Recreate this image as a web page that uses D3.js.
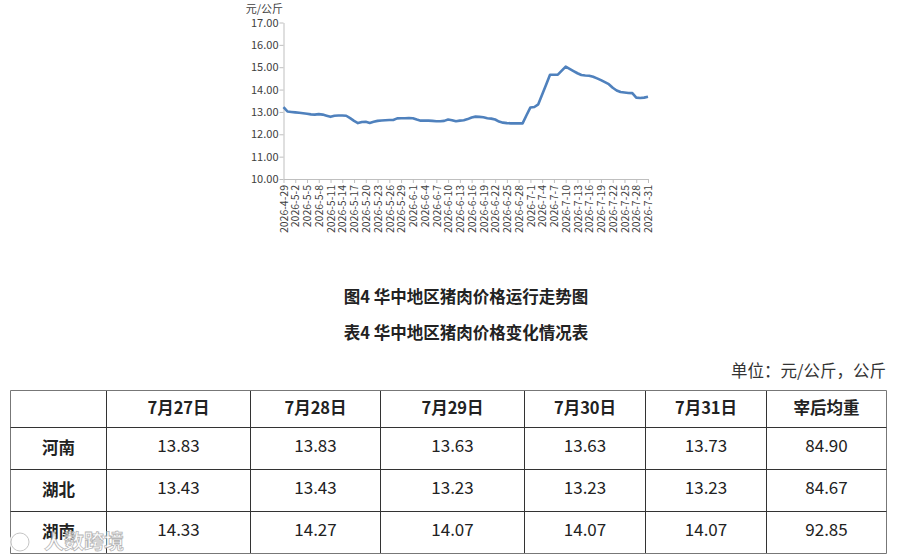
<!DOCTYPE html>
<html>
<head>
<meta charset="utf-8">
<title>华中地区猪肉价格</title>
<script src="https://d3js.org/d3.v7.min.js"></script>
<style>
body { margin: 0; background: #fff; }
text { font-family: "Noto Sans CJK SC", "Noto Sans", sans-serif; }
</style>
</head>
<body>
<div id="canvas"></div>
<script>

// ---- chart data: daily price 2026-4-29 .. 2026-7-31 (元/公斤) ----
var startDate = new Date(2026, 3, 29);
var prices = [
  13.21, 13.02, 13.00, 12.98, 12.96, 12.94, 12.92, 12.89, 12.88, 12.90,
  12.88, 12.83, 12.78, 12.83, 12.84, 12.84, 12.83, 12.72, 12.60, 12.50,
  12.55, 12.56, 12.51, 12.56, 12.60, 12.62, 12.63, 12.64, 12.64, 12.71,
  12.72, 12.72, 12.73, 12.72, 12.66, 12.61, 12.61, 12.61, 12.60, 12.58,
  12.58, 12.60, 12.66, 12.63, 12.58, 12.61, 12.63, 12.68, 12.75, 12.79,
  12.78, 12.76, 12.72, 12.70, 12.66, 12.57, 12.52, 12.50, 12.49, 12.49,
  12.49, 12.49, 12.85, 13.20, 13.22, 13.34, 13.78, 14.22, 14.66, 14.66,
  14.67, 14.85, 15.03, 14.93, 14.83, 14.73, 14.65, 14.63, 14.62, 14.57,
  14.50, 14.42, 14.33, 14.24, 14.08, 13.96, 13.89, 13.87, 13.85, 13.84,
  13.64, 13.62, 13.64, 13.68
];
var yTicks = [10, 11, 12, 13, 14, 15, 16, 17];
var yUnit = "元/公斤";

// ---- table data ----
var figTitle = "图4 华中地区猪肉价格运行走势图";
var tableTitle = "表4 华中地区猪肉价格变化情况表";
var unitNote = "单位：元/公斤，公斤";
var headers = ["", "7月27日", "7月28日", "7月29日", "7月30日", "7月31日", "宰后均重"];
var regions = ["河南", "湖北", "湖南"];
var henan = [13.83, 13.83, 13.63, 13.63, 13.73, 84.90];
var hubei = [13.43, 13.43, 13.23, 13.23, 13.23, 84.67];
var hunan = [14.33, 14.27, 14.07, 14.07, 14.07, 92.85];
var rows = [henan, hubei, hunan];

var dates = prices.map(function(d, i) {
  var t = new Date(startDate.getTime());
  t.setDate(t.getDate() + i);
  return t.getFullYear() + "-" + (t.getMonth() + 1) + "-" + t.getDate();
});

var svg = d3.select("#canvas")
            .append("svg")
            .attr("width", 900)
            .attr("height", 558);

// ---- line chart ----
var plot = { left: 283.5, right: 648, top: 22.5, bottom: 179 };

var x = d3.scalePoint()
          .domain(dates)
          .range([plot.left, plot.right]);

var y = d3.scaleLinear()
          .domain([10, 17])
          .range([plot.bottom, plot.top]);

var yAxis = svg.append("g")
               .attr("transform", "translate(" + plot.left + ",0)")
               .call(d3.axisLeft(y).tickValues(yTicks)
                       .tickFormat(d3.format(".2f")).tickSize(4).tickSizeOuter(0));
yAxis.select(".domain").attr("stroke", "#bfbfbf");
yAxis.selectAll(".tick line").attr("stroke", "#bfbfbf");
yAxis.selectAll(".tick text")
     .attr("x", -5)
     .attr("fill", "#404040")
     .style("font-size", "11px");

svg.append("text")
   .attr("x", 283)
   .attr("y", 12.5)
   .attr("text-anchor", "end")
   .attr("fill", "#404040")
   .style("font-size", "11px")
   .text(yUnit);

var xAxis = svg.append("g")
               .attr("transform", "translate(0," + plot.bottom + ")")
               .call(d3.axisBottom(x)
                       .tickValues(dates.filter(function(d, i) { return i % 3 === 0; }))
                       .tickSize(4).tickSizeOuter(0));
xAxis.select(".domain").attr("stroke", "#bfbfbf");
xAxis.selectAll(".tick line").attr("stroke", "#bfbfbf");
xAxis.selectAll(".tick text")
     .attr("transform", "rotate(-90)")
     .attr("x", -6)
     .attr("y", 0)
     .attr("dy", "0.35em")
     .attr("text-anchor", "end")
     .attr("fill", "#404040")
     .style("font-size", "10.5px");

var line = d3.line()
             .x(function(d, i) { return x(dates[i]); })
             .y(function(d) { return y(d); });

svg.append("path")
   .datum(prices)
   .attr("d", line)
   .attr("fill", "none")
   .attr("stroke", "#4f81bd")
   .attr("stroke-width", 2.6)
   .attr("stroke-linejoin", "round");

// ---- captions ----
svg.append("text")
   .attr("x", 466).attr("y", 297)
   .attr("dy", "0.35em")
   .attr("text-anchor", "middle")
   .attr("fill", "#222")
   .style("font-size", "16.5px")
   .style("font-weight", "bold")
   .text(figTitle);

svg.append("text")
   .attr("x", 466).attr("y", 333)
   .attr("dy", "0.35em")
   .attr("text-anchor", "middle")
   .attr("fill", "#222")
   .style("font-size", "16.5px")
   .style("font-weight", "bold")
   .text(tableTitle);

svg.append("text")
   .attr("x", 886).attr("y", 371)
   .attr("dy", "0.35em")
   .attr("text-anchor", "end")
   .attr("fill", "#333")
   .style("font-size", "16.5px")
   .text(unitNote);

// ---- table ----
var colEdges = [10.5, 106.5, 250.5, 380.5, 524.5, 645.5, 766.5, 886.5];
var rowEdges = [390.5, 427.5, 469.5, 511.5, 553.5];

var table = svg.append("g");

table.selectAll("line.v")
     .data(colEdges)
     .enter()
     .append("line")
     .attr("x1", function(d) { return d; })
     .attr("x2", function(d) { return d; })
     .attr("y1", rowEdges[0])
     .attr("y2", rowEdges[rowEdges.length - 1])
     .attr("stroke", function(d, i) { return (i === 0 || i === colEdges.length - 1) ? "#777" : "#333"; })
     .attr("stroke-width", 1);

table.selectAll("line.h")
     .data(rowEdges)
     .enter()
     .append("line")
     .attr("x1", colEdges[0])
     .attr("x2", colEdges[colEdges.length - 1])
     .attr("y1", function(d) { return d; })
     .attr("y2", function(d) { return d; })
     .attr("stroke", function(d, i) { return (i === 0 || i === rowEdges.length - 1) ? "#777" : "#333"; })
     .attr("stroke-width", 1);

var colMid = function(i) { return (colEdges[i] + colEdges[i + 1]) / 2; };
var rowMid = function(i) { return (rowEdges[i] + rowEdges[i + 1]) / 2; };

table.selectAll("text.head")
     .data(headers)
     .enter()
     .append("text")
     .attr("x", function(d, i) { return colMid(i); })
     .attr("y", rowMid(0) - 1)
     .attr("dy", "0.35em")
     .attr("text-anchor", "middle")
     .attr("fill", "#222")
     .style("font-size", "16.5px")
     .style("font-weight", "bold")
     .text(function(d) { return d; });

table.selectAll("text.region")
     .data(regions)
     .enter()
     .append("text")
     .attr("x", colMid(0))
     .attr("y", function(d, i) { return rowMid(i + 1); })
     .attr("dy", "0.35em")
     .attr("text-anchor", "middle")
     .attr("fill", "#222")
     .style("font-size", "16.5px")
     .style("font-weight", "bold")
     .text(function(d) { return d; });

rows.forEach(function(r, ri) {
  table.selectAll("text.r" + ri)
       .data(r)
       .enter()
       .append("text")
       .attr("x", function(d, i) { return colMid(i + 1); })
       .attr("y", rowMid(ri + 1) - 2)
       .attr("dy", "0.35em")
       .attr("text-anchor", "middle")
       .attr("fill", "#222")
       .style("font-size", "17px")
       .text(function(d) { return d.toFixed(2); });
});

// ---- watermark ----
var wm = svg.append("g").attr("opacity", 0.85);
wm.append("circle")
  .attr("cx", 20).attr("cy", 542).attr("r", 9)
  .attr("fill", "none").attr("stroke", "#fff").attr("stroke-width", 3.5);
wm.append("circle")
  .attr("cx", 20).attr("cy", 542).attr("r", 9)
  .attr("fill", "none").attr("stroke", "#bbb").attr("stroke-width", 1);
wm.append("text")
  .attr("x", 44).attr("y", 542)
  .attr("dy", "0.35em")
  .attr("fill", "#fff")
  .attr("stroke", "#aaa")
  .attr("stroke-width", 0.8)
  .style("font-size", "20px")
  .style("font-weight", "bold")
  .text("人数跨境");

</script>
</body>
</html>
